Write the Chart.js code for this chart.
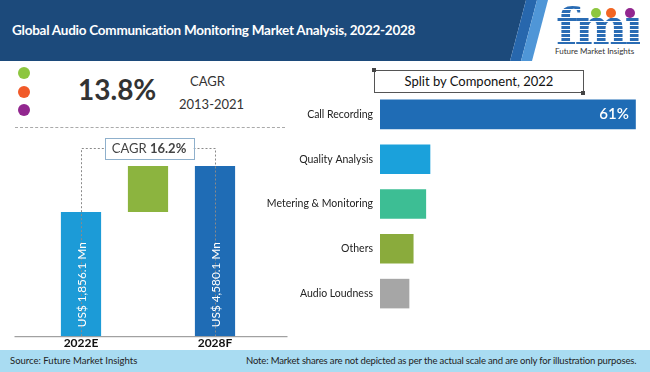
<!DOCTYPE html>
<html lang="en">
<head>
<meta charset="UTF-8">
<title>Global Audio Communication Monitoring Market Analysis, 2022-2028</title>
<script src="https://cdn.jsdelivr.net/npm/chart.js"></script>
<style>
  body { margin: 0; background: #fff; }
  #page { position: relative; width: 650px; height: 372px; overflow: hidden; background: #fff; font-family: Lato, "Open Sans", sans-serif; }
  #page > * { position: absolute; }
  #hdDark { left: 0; top: 0; width: 650px; height: 61px; background: #1c4a7b; clip-path: polygon(0 0, 526px 0, 510px 61px, 0 61px); }
  #hdMid { left: 0; top: 0; width: 650px; height: 61px; background: #2767ad; clip-path: polygon(526px 0, 537px 0, 521px 61px, 510px 61px); }
  #hdLight { left: 0; top: 0; width: 650px; height: 61px; background: #4f96d7; clip-path: polygon(537px 0, 548px 0, 532px 61px, 521px 61px); }
  #title { left: 12px; top: 22px; color: #fff; font-weight: bold; font-size: 13.5px; letter-spacing: -0.25px; white-space: nowrap; }
  #fmi { left: 556px; top: 2px; font-family: "DejaVu Serif", serif; font-weight: bold; font-size: 50px; line-height: 50px; letter-spacing: -3px;
         background: repeating-linear-gradient(to bottom, #2a6cb4 0 3px, #fff 3px 4px); -webkit-background-clip: text; background-clip: text; color: transparent; }
  #fmiText { left: 555px; top: 46px; font-size: 8px; color: #333; white-space: nowrap; }
  .logoDot { width: 10px; height: 10px; border-radius: 50%; }
  .dot { width: 12px; height: 12px; border-radius: 50%; }
  #bigCagr { left: 78px; top: 72px; font-size: 28px; font-weight: bold; color: #333; }
  #cagrLbl { left: 190px; top: 73px; font-size: 13px; color: #333; }
  #cagrYears { left: 179px; top: 96px; font-size: 13px; color: #333; }
  #dash { left: 15px; top: 127px; width: 270px; border-top: 1px dashed #aaa; }
  #splitBox { left: 374px; top: 70px; width: 208px; height: 21px; border: 1px solid #555; text-align: center; font-size: 13px; line-height: 21px; color: #111; }
  .corner { width: 4px; height: 4px; background: #444; }
  #footer { left: 0; top: 350px; width: 650px; height: 22px; background: #a9dcf2; }
  #source { left: 10px; top: 355px; font-size: 9.5px; color: #222; white-space: nowrap; }
  #note { left: 246px; top: 355px; font-size: 9.5px; letter-spacing: -0.15px; color: #222; white-space: nowrap; }
</style>
</head>
<body>
<div id="page">
  <div id="hdDark"></div>
  <div id="hdMid"></div>
  <div id="hdLight"></div>
  <div id="title">Global Audio Communication Monitoring Market Analysis, 2022-2028</div>
  <div id="fmi">fmı</div>
  <div class="logoDot" style="left:591px;top:8px;background:#8dc63f"></div>
  <div class="logoDot" style="left:606px;top:8px;background:#f26522"></div>
  <div class="logoDot" style="left:625px;top:8px;background:#92278f"></div>
  <div id="fmiText">Future Market Insights</div>

  <div class="dot" style="left:18px;top:67px;background:#8dc63f"></div>
  <div class="dot" style="left:18px;top:86px;background:#f15a29"></div>
  <div class="dot" style="left:18px;top:104px;background:#92278f"></div>
  <div id="bigCagr">13.8%</div>
  <div id="cagrLbl">CAGR</div>
  <div id="cagrYears">2013-2021</div>
  <div id="dash"></div>

  <canvas id="market" width="295" height="220" style="left:0;top:130px"></canvas>

  <div id="splitBox">Split by Component, 2022</div>
  <div class="corner" style="left:372px;top:68px"></div>
  <div class="corner" style="left:581px;top:91px"></div>
  <canvas id="split" width="410" height="224" style="left:240px;top:92px"></canvas>

  <div id="footer"></div>
  <div id="source">Source: Future Market Insights</div>
  <div id="note">Note: Market shares are not depicted as per the actual scale and are only for illustration purposes.</div>
</div>
<script>
// market size (US$ Mn)
const years = ['2022E', '', '2028F'];
const marketStart = 1856.1;
const marketEnd = 4580.1;
const marketLabels = ['US$ 1,856.1 Mn', '', 'US$ 4,580.1 Mn'];
const cagrForecast = '16.2%';
const marketColors = ['#1c9bd7', '#8cb43f', '#1f6cb5'];
// the bars are drawn from a floor below zero, like in the original picture
const axisFloor = -5500;
const axisTop = 6120;

// split by component, 2022 (%)
const components = ['Call Recording', 'Quality Analysis', 'Metering & Monitoring', 'Others', 'Audio Loudness'];
const shares = [61, 12, 11, 8, 7];
const shareLabels = ['61%', '', '', '', ''];
const shareColors = ['#1f6cb5', '#1ba1db', '#3dbe94', '#8aab3c', '#a6a6a6'];

const FONT = 'Lato, "Open Sans", sans-serif';

const marketExtras = {
  id: 'marketExtras',
  beforeDatasetsDraw(chart) {
    const ctx = chart.ctx, a = chart.chartArea;
    ctx.save();
    ctx.strokeStyle = '#8c8c8c';
    ctx.lineWidth = 1;
    ctx.beginPath();
    ctx.moveTo(a.left - 33, a.bottom + 0.5);
    ctx.lineTo(a.right + 39, a.bottom + 0.5);
    ctx.stroke();
    ctx.restore();
  },
  afterDatasetsDraw(chart) {
    const ctx = chart.ctx, a = chart.chartArea;
    const bars = chart.getDatasetMeta(0).data;
    const b0 = bars[0], b1 = bars[1], b2 = bars[2];
    // CAGR box with dotted connectors
    const boxW = 89, boxH = 21, boxY = a.top + 8;
    const boxL = b1.x - boxW / 2 + 1, boxR = boxL + boxW;
    ctx.save();
    ctx.strokeStyle = '#8a8a8a';
    ctx.setLineDash([2, 2]);
    ctx.beginPath();
    ctx.moveTo(Math.round(b0.x) + 0.5, b0.y);
    ctx.lineTo(Math.round(b0.x) + 0.5, boxY + 0.5);
    ctx.lineTo(boxL, boxY + 0.5);
    ctx.moveTo(boxR, boxY + 0.5);
    ctx.lineTo(Math.round(b2.x) + 0.5, boxY + 0.5);
    ctx.lineTo(Math.round(b2.x) + 0.5, b2.y);
    ctx.stroke();
    ctx.setLineDash([]);
    ctx.fillStyle = '#fff';
    ctx.strokeStyle = '#8fb0cc';
    ctx.fillRect(boxL, boxY - boxH / 2, boxW, boxH);
    ctx.strokeRect(Math.round(boxL) + 0.5, Math.round(boxY - boxH / 2) + 0.5, boxW, boxH);
    ctx.textBaseline = 'middle';
    ctx.fillStyle = '#444';
    const p1 = 'CAGR ';
    ctx.font = 'bold 13px ' + FONT;
    const w2 = ctx.measureText(cagrForecast).width;
    ctx.font = '13px ' + FONT;
    const w1 = ctx.measureText(p1).width;
    const tx = boxL + (boxW - w1 - w2) / 2;
    ctx.textAlign = 'left';
    ctx.fillText(p1, tx, boxY + 1);
    ctx.font = 'bold 13px ' + FONT;
    ctx.fillText(cagrForecast, tx + w1, boxY + 1);
    // vertical value labels
    ctx.fillStyle = '#fff';
    ctx.font = '11.8px ' + FONT;
    bars.forEach((bar, i) => {
      if (!marketLabels[i]) return;
      ctx.save();
      ctx.translate(bar.x, a.bottom - 9);
      ctx.rotate(-Math.PI / 2);
      ctx.textAlign = 'left';
      ctx.textBaseline = 'middle';
      ctx.fillText(marketLabels[i], 0, 1);
      ctx.restore();
    });
    ctx.restore();
  }
};

new Chart(document.getElementById('market').getContext('2d'), {
  type: 'bar',
  data: {
    labels: years,
    datasets: [{
      data: [[axisFloor, marketStart], [marketStart, marketEnd], [axisFloor, marketEnd]],
      backgroundColor: marketColors,
      borderWidth: 0,
      barPercentage: 0.6,
      categoryPercentage: 1
    }]
  },
  options: {
    responsive: false,
    animation: false,
    layout: { padding: { left: 47.5, right: 46.5, top: 10, bottom: 0 } },
    plugins: { legend: { display: false }, tooltip: { enabled: false } },
    scales: {
      x: {
        grid: { display: false, drawTicks: false },
        border: { display: false },
        ticks: { color: '#111', padding: 0, font: { family: FONT, size: 12, weight: 'bold', lineHeight: 1.15 } }
      },
      y: { display: false, min: axisFloor, max: axisTop }
    }
  },
  plugins: [marketExtras]
});

const shareLabelPlugin = {
  id: 'shareLabelPlugin',
  afterDatasetsDraw(chart) {
    const ctx = chart.ctx;
    ctx.save();
    ctx.fillStyle = '#fff';
    ctx.font = '600 15px ' + FONT;
    ctx.textAlign = 'right';
    ctx.textBaseline = 'middle';
    chart.getDatasetMeta(0).data.forEach((bar, i) => {
      if (shareLabels[i]) ctx.fillText(shareLabels[i], bar.x - 7, bar.y);
    });
    ctx.restore();
  }
};

new Chart(document.getElementById('split').getContext('2d'), {
  type: 'bar',
  data: {
    labels: components,
    datasets: [{
      data: shares,
      backgroundColor: shareColors,
      borderWidth: 0,
      barPercentage: 0.66,
      categoryPercentage: 1
    }]
  },
  options: {
    indexAxis: 'y',
    responsive: false,
    animation: false,
    layout: { padding: { left: 0, right: 10, top: 0, bottom: 0 } },
    plugins: { legend: { display: false }, tooltip: { enabled: false } },
    scales: {
      x: { display: false, min: 0, max: 62 },
      y: {
        grid: { display: false, drawTicks: false },
        border: { display: false },
        ticks: { color: '#222', padding: 7, font: { family: FONT, size: 10.5 } },
        afterFit(scale) {
          scale.width = 140;
          scale.paddingTop = 0;
          scale.paddingBottom = 0;
        }
      }
    }
  },
  plugins: [shareLabelPlugin]
});
</script>
</body>
</html>
